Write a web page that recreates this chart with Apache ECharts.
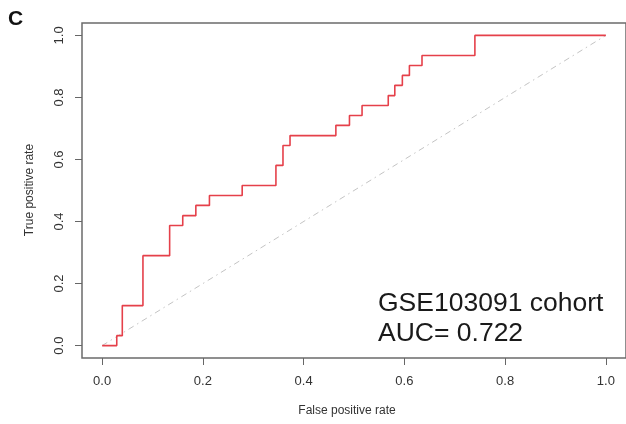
<!DOCTYPE html>
<html>
<head>
<meta charset="utf-8">
<script src="https://cdn.jsdelivr.net/npm/echarts@6/dist/echarts.min.js"></script>
<style>
  html, body { margin: 0; padding: 0; background: #fff; }
  #chart { width: 626px; height: 424px; }
</style>
</head>
<body>
<div id="chart"></div>
<script>
// ROC curve points (false positive rate, true positive rate) for the GSE103091 cohort
const fpr = [0, 0.029, 0.040, 0.081, 0.134, 0.160, 0.186, 0.213, 0.278, 0.345, 0.359,
             0.373, 0.464, 0.491, 0.516, 0.568, 0.581, 0.596, 0.610, 0.635, 0.740, 1.0];
const tpr = [0, 0.032, 0.129, 0.290, 0.387, 0.419, 0.452, 0.484, 0.516, 0.581, 0.645,
             0.677, 0.710, 0.742, 0.774, 0.806, 0.839, 0.871, 0.903, 0.935, 1.0, 1.0];

// Chance line
const chanceX = [0, 1];
const chanceY = [0, 1];

// Tick labels on both axes
const tickValues = [0, 0.2, 0.4, 0.6, 0.8, 1.0];

const cohortLabel = 'GSE103091 cohort';
const aucLabel = 'AUC= 0.722';
const panelLetter = 'C';

const FONT = "'Liberation Sans', Arial, Helvetica, sans-serif";

const rocData = fpr.map((x, i) => [x, tpr[i]]);
const chanceData = chanceX.map((x, i) => [x, chanceY[i]]);

const chart = echarts.init(document.getElementById('chart'), null, { renderer: 'canvas' });

function axisCommon() {
  return {
    type: 'value',
    min: -0.04,
    max: 1.04,
    splitLine: { show: false },
    axisLine: { show: false, onZero: false },
    axisTick: {
      show: true,
      customValues: tickValues,
      length: 7,
      inside: false,
      lineStyle: { color: '#666', width: 1 }
    },
    axisLabel: {
      customValues: tickValues,
      formatter: v => v.toFixed(1),
      color: '#333',
      fontFamily: FONT,
      fontSize: 13
    }
  };
}

const xAxis = axisCommon();
xAxis.position = 'bottom';
xAxis.axisLabel.margin = 17;

const yAxis = axisCommon();
yAxis.position = 'left';
yAxis.axisLabel.rotate = 90;
yAxis.axisLabel.margin = 16;

chart.setOption({
  animation: false,
  backgroundColor: '#ffffff',
  grid: {
    left: 82, right: -1, top: 23, bottom: 66,
    show: true,
    borderColor: '#6b6b6b',
    borderWidth: 1.5,
    backgroundColor: 'transparent'
  },
  xAxis: xAxis,
  yAxis: yAxis,
  series: [
    {
      type: 'line',
      data: chanceData,
      symbol: 'none',
      silent: true,
      lineStyle: { color: '#c4c4c4', width: 1, type: [6, 4, 1.5, 4] }
    },
    {
      type: 'line',
      data: rocData,
      step: 'end',
      symbol: 'none',
      silent: true,
      lineStyle: { color: '#e5404a', width: 1.6 }
    }
  ],
  graphic: [
    {
      type: 'text', left: 8, top: 9,
      style: { text: panelLetter, font: "bold 21px " + FONT, fill: '#111' }
    },
    {
      type: 'text', x: 347, y: 411,
      style: { text: 'False positive rate', font: "12px " + FONT, fill: '#333',
               align: 'center', verticalAlign: 'middle' }
    },
    {
      type: 'text', x: 30, y: 190, rotation: Math.PI / 2,
      style: { text: 'True positive rate', font: "12px " + FONT, fill: '#333',
               align: 'center', verticalAlign: 'middle' }
    },
    {
      type: 'text', x: 378, y: 304,
      style: { text: cohortLabel, font: "26.5px " + FONT, fill: '#1a1a1a',
               align: 'left', verticalAlign: 'middle' }
    },
    {
      type: 'text', x: 378, y: 334,
      style: { text: aucLabel, font: "26.5px " + FONT, fill: '#1a1a1a',
               align: 'left', verticalAlign: 'middle' }
    }
  ]
});
</script>
</body>
</html>
